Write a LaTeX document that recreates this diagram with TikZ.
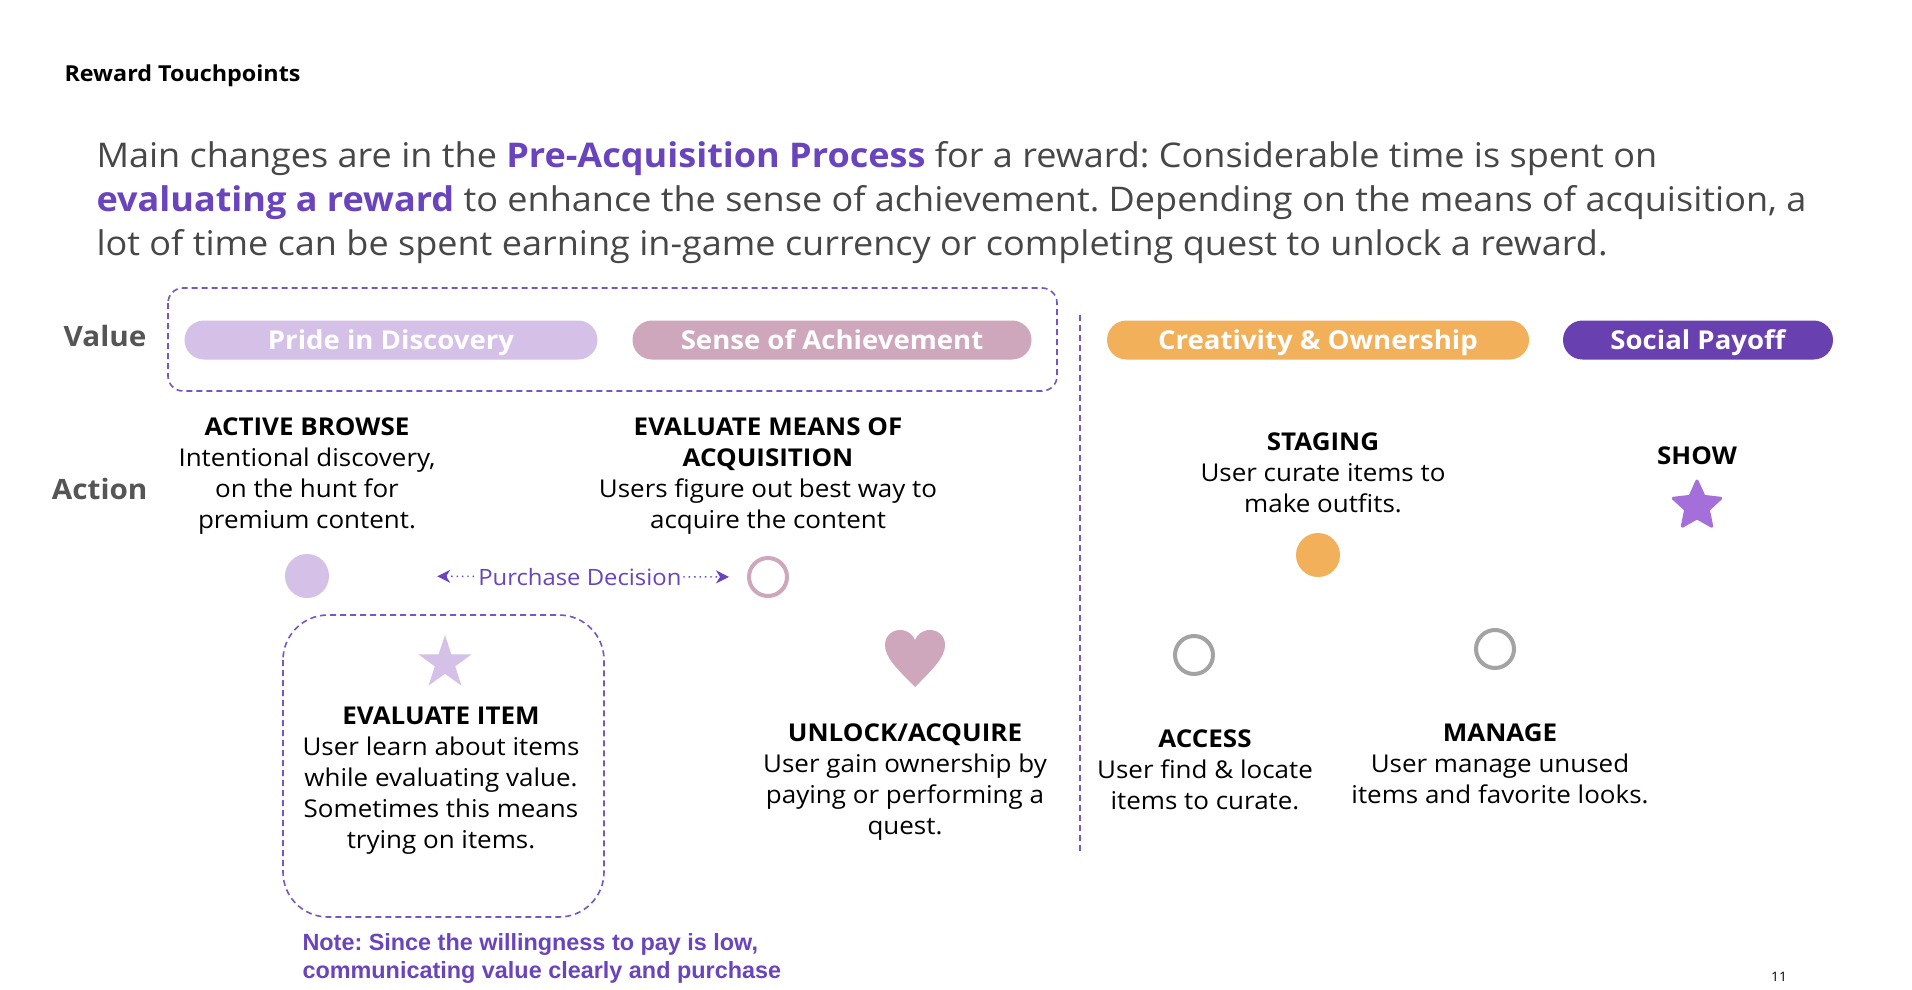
\documentclass[tikz,border=0pt]{standalone}
\usepackage{fontspec}
\setmainfont{Open Sans}[FakeStretch=1.06]
\newfontfamily\notefont{Liberation Sans}
\frenchspacing
\usetikzlibrary{positioning,shapes.geometric,arrows.meta}

\definecolor{inkgray}{HTML}{474747}
\definecolor{labgray}{HTML}{555555}
\definecolor{hlpurple}{HTML}{6A43BE}
\definecolor{lavender}{HTML}{D5C0E8}
\definecolor{mauve}{HTML}{CFA7BC}
\definecolor{amber}{HTML}{F2B05A}
\definecolor{deeppurple}{HTML}{6840B0}
\definecolor{starpurple}{HTML}{A56FD9}
\definecolor{ringgray}{HTML}{A3A3A3}
\definecolor{dashpurple}{HTML}{7655C6}

\begin{document}
\begin{tikzpicture}[
					x=1pt,y=-1pt,
					pill/.style={rounded corners=19.5pt,minimum height=39pt,inner sep=0pt,text height=23pt,text depth=5pt,text=white,font=\fontsize{26}{30}\selectfont\bfseries},
					rowlab/.style={anchor=east,text=labgray,font=\fontsize{28}{32}\selectfont\bfseries},
					stepnote/.style={align=center,text=black,font=\fontsize{24.5}{31}\selectfont},
					groupbox/.style={draw=dashpurple,line width=1.6pt,dash pattern=on 6pt off 4pt},
					ringdot/.style={circle,draw,line width=4pt,minimum size=38pt,inner sep=0pt},
					fulldot/.style={circle,minimum size=44pt,inner sep=0pt}
					]
					\useasboundingbox (0,0) rectangle (1912,990);
					\fill[white] (0,0) rectangle (1912,990);
					% header
					\node[anchor=west,font=\fontsize{22}{26}\selectfont\bfseries] (title) at (61,76) {Reward Touchpoints};
					\node[anchor=west,align=left,text=inkgray,font=\fontsize{34}{44}\selectfont] (intro) at (93,203)
						{Main changes are in the {\color{hlpurple}\bfseries Pre-Acquisition Process} for a reward: Considerable time is spent on\\
						{\color{hlpurple}\bfseries evaluating a reward} to enhance the sense of achievement. Depending on the means of acquisition, a\\
						lot of time can be spent earning in-game currency or completing quest to unlock a reward.};
					% value row
					\node[rowlab] (vallab) at (150,336) {Value};
					\node[rowlab] (actlab) at (151,489) {Action};
					\draw[groupbox,rounded corners=15pt] (168,288) rectangle (1057,391);
					\draw[groupbox] (1080,315) -- (1080,851);
					\foreach \pn/\cx/\w/\col/\txt in {pride/391/413/lavender/Pride in Discovery,achieve/832/399/mauve/Sense of Achievement,create/1318/422/amber/Creativity \& Ownership,social/1698/270/deeppurple/Social Payoff}{
						\node[pill,fill=\col,minimum width=\w pt] (\pn) at (\cx,340) {\txt};
					}
					% actions
					\node[stepnote] (browse) at (307,476) {\textbf{ACTIVE BROWSE}\\Intentional discovery,\\on the hunt for\\premium content.};
					\node[stepnote] (means) at (768,476) {\textbf{EVALUATE MEANS OF}\\\textbf{ACQUISITION}\\Users figure out best way to\\acquire the content};
					\node[fulldot,fill=lavender] (browsedot) at (307,576) {};
					\node[ringdot,draw=mauve] (meansring) at (768,577) {};
					\draw[line width=1.4pt,draw=hlpurple,dash pattern=on 1.4pt off 4pt,{Stealth[length=13pt,width=13pt,inset=4pt]}-{Stealth[length=13pt,width=13pt,inset=4pt]},shorten <=108pt,shorten >=18pt]
						(browsedot) -- node[pos=0.6,fill=white,inner sep=2pt,text=hlpurple,font=\fontsize{22.5}{26}\selectfont] (pdlab) {Purchase Decision} (meansring);
					\draw[groupbox,rounded corners=45pt] (283,615) rectangle (604,917);
					\node[star,star points=5,star point ratio=2.6,fill=lavender,minimum size=56pt,inner sep=0pt] (itemstar) at (445,663) {};
					\node[stepnote] (item) at (441,781) {\textbf{EVALUATE ITEM}\\User learn about items\\while evaluating value.\\Sometimes this means\\trying on items.};
					\coordinate (heart) at (915,658);
					\fill[mauve] (915,687) .. controls (896,668) and (885,657) .. (885,645) .. controls (885,636) and (892,630) .. (900,630) .. controls (908,630) and (913,635) .. (915,640) .. controls (917,635) and (922,630) .. (930,630) .. controls (938,630) and (945,636) .. (945,645) .. controls (945,657) and (934,668) .. (915,687) -- cycle;
					\node[stepnote] (unlock) at (905,782) {\textbf{UNLOCK/ACQUIRE}\\User gain ownership by\\paying or performing a\\quest.};
					\node[stepnote] (staging) at (1323,473) {\textbf{STAGING}\\User curate items to\\make outfits.};
					\node[fulldot,fill=amber] (stagedot) at (1318,555) {};
					\node[stepnote] (show) at (1697,456) {\textbf{SHOW}};
					\node[star,star points=5,star point ratio=2.1,fill=starpurple,draw=starpurple,line width=3pt,line join=round,minimum size=50pt,inner sep=0pt] (showstar) at (1697,506) {};
					\node[ringdot,draw=ringgray] (accessring) at (1194,655) {};
					\node[ringdot,draw=ringgray] (managering) at (1495,649) {};
					\node[stepnote] (access) at (1205,770) {\textbf{ACCESS}\\User find \& locate\\items to curate.};
					\node[stepnote] (manage) at (1500,764) {\textbf{MANAGE}\\User manage unused\\items and favorite looks.};
					% footer
					\node[anchor=west,align=left,text=hlpurple,font=\notefont\fontsize{23.4}{28}\selectfont\bfseries] (note) at (299,958)
						{Note: Since the willingness to pay is low,\\communicating value clearly and purchase};
					\node[font=\fontsize{13}{15}\selectfont] (pagenum) at (1779,977) {11};
				\end{tikzpicture}
\end{document}
